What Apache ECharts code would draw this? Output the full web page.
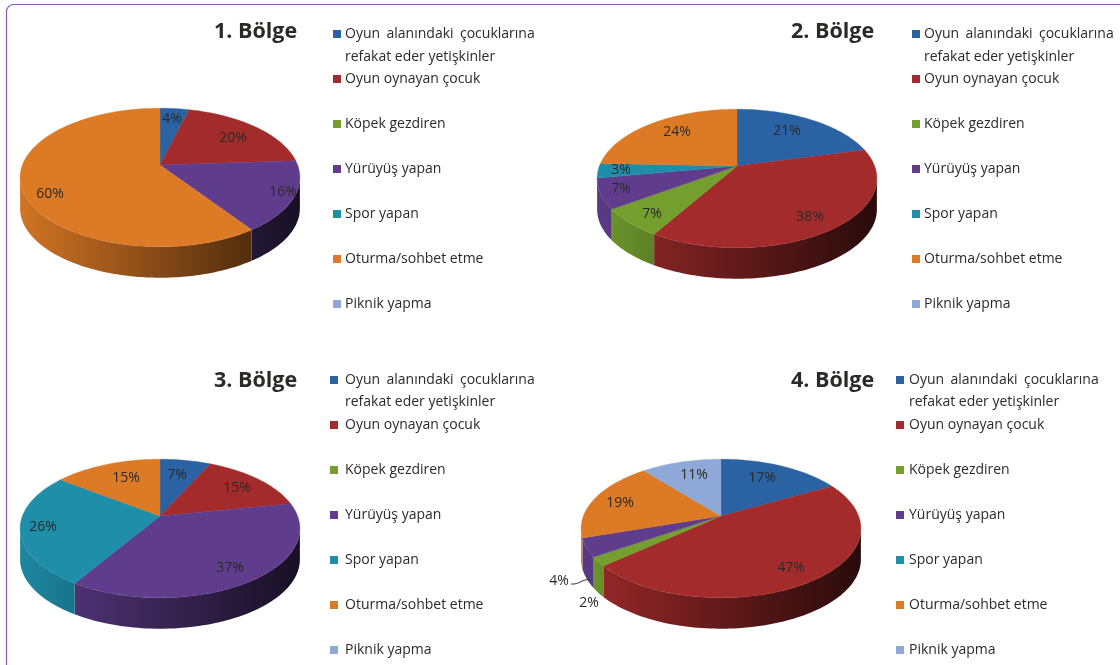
<!DOCTYPE html>
<html><head><meta charset="utf-8">
<style>html,body{margin:0;padding:0;background:#fff}#c{width:1120px;height:665px}</style>
<script src="https://cdn.jsdelivr.net/npm/echarts@6/dist/echarts.min.js"></script>
</head><body><div id="c"></div>
<script>
const categories = ['Oyun alanındaki çocuklarına','Oyun oynayan çocuk','Köpek gezdiren','Yürüyüş yapan','Spor yapan','Oturma/sohbet etme','Piknik yapma'];
const legendSecondLine = 'refakat eder yetişkinler';
const regionTitles = ['1. Bölge','2. Bölge','3. Bölge','4. Bölge'];
const region1 = [4,20,0,16.4,0,59.6,0];
const region2 = [21,37.5,6.7,7,3.4,24.4,0];
const region3 = [7,15,0,36.8,26.4,14.8,0];
const region4 = [17,46.6,2.1,4.3,0,19,11];
const regions = [region1,region2,region3,region4];

const colors = ['#2a62a3','#a42b2c','#749f2f','#5f3d8c','#1f8ea9','#dc7a26','#8ea9d8'];
const apex = [[160,165],[737,166],[160,516],[721,516]];
const R = 137.6, H = 67, K = 0.18, DEPTH = 31;
const legendPos = [[333,24,4],[912,24,4],[330,370,7],[896,370,5]];
const titlePos = [[214,21],[791,21],[214,370],[791,370]];
const secondLine = [[345,57],[924,57],[345,402],[909,402]];
// label centres per region / category
const labelPos = [
 [[172,119],[233,138],null,[283,192],null,[50,194],null],
 [[787,131],[810,217],[652,214],[621,189],[621,170],[677,132],null],
 [[177,475],[237,488],null,[230,568],[43,527],[126,478],null],
 [[762,478],[791,568],[589,603],[559,581],null,[620,503],[694,475]]
];
const FONT = '"Open Sans"';
const TEXT = '#2b2a29';
const FRONT_START = Math.acos(-K)/(2*Math.PI), FRONT_END = 1-FRONT_START;

function project(p, frac){
  const a = frac*2*Math.PI, u = Math.sin(a), v = -Math.cos(a), w = 1-K*v;
  return [apex[p][0]+R*u/w, apex[p][1]+H*v/w];
}
function arcPoints(p, a, b, n){
  const out = [];
  for(let i=0;i<=n;i++) out.push(project(p,a+(b-a)*i/n));
  return out;
}
function shade(hex, s){
  const n = parseInt(hex.slice(1),16);
  const c = [n>>16,(n>>8)&255,n&255].map(x=>Math.round(x*s));
  return 'rgb('+c.join(',')+')';
}
function renderSlice(cat){
  return function(params, api){
    const p = api.value(0), val = api.value(1);
    if(!val) return null;
    const before = regions[p].slice(0,cat).reduce((a,b)=>a+b,0);
    const total = regions[p].reduce((a,b)=>a+b,0);
    const s0 = before/total, s1 = (before+val)/total;
    const n = Math.max(4,Math.ceil(val*2));
    const col = colors[cat];
    const children = [
      {type:'polygon', z2:10, shape:{points:[apex[p]].concat(arcPoints(p,s0,s1,n))}, style:{fill:col,stroke:col,lineWidth:0.4}}
    ];
    const w0 = Math.max(s0,FRONT_START), w1 = Math.min(s1,FRONT_END);
    if(w1>w0){
      const arc = arcPoints(p,w0,w1,n);
      const wall = arc.concat(arc.slice().reverse().map(q=>[q[0],q[1]+DEPTH]));
      const xs = arc.map(q=>q[0]), minX = Math.min(...xs), maxX = Math.max(...xs);
      const left = apex[p][0]-R*1.0166, span = 2*R*1.0166;
      const sh = x => 0.95-0.7*(x-left)/span;
      children.push({type:'polygon', z2:1, shape:{points:wall},
       style:{fill:{type:'linear',x:0,y:0,x2:1,y2:0,colorStops:[{offset:0,color:shade(col,sh(minX))},{offset:1,color:shade(col,sh(maxX))}]}}});
    }
    const lp = labelPos[p][cat];
    if(lp) children.push({type:'text', z2:20, style:{x:lp[0],y:lp[1],text:Math.round(val)+'%',fill:TEXT,font:'14px '+FONT,align:'center',verticalAlign:'middle'}});
    if(p===3 && cat===3) children.push({type:'bezierCurve', z2:20, shape:{x1:571,y1:584,cpx1:580,cpy1:585,cpx2:582,cpy2:578,x2:591,y2:580}, style:{stroke:'#333',lineWidth:1,fill:null}});
    return {type:'group', children};
  };
}
const series = categories.map((name,c)=>({
  name, type:'custom', coordinateSystem:'none', itemStyle:{color:colors[c]},
  renderItem:renderSlice(c), silent:true, animation:false,
  data: regions.map((r,i)=>[i,r[c]])
}));
const chart = echarts.init(document.getElementById('c'),null,{renderer:'canvas'});
chart.setOption({
  animation:false, backgroundColor:'#fff',
  title: regionTitles.map((t,i)=>({text:t,left:titlePos[i][0],top:titlePos[i][1],padding:0,
    textStyle:{fontFamily:FONT,fontWeight:'bold',fontSize:21.5,color:TEXT}})),
  legend: legendPos.map(l=>({orient:'vertical',left:l[0],top:l[1],padding:0,icon:'rect',itemWidth:8,itemHeight:8,
    itemGap:25,data:categories,selectedMode:false,inactiveColor:'#ccc',
    formatter:n=>n===categories[0]?n.replace(/ /g,' \u200A\u200A'):n,
    textStyle:{fontFamily:FONT,fontSize:14,color:TEXT,lineHeight:20,padding:[0,0,0,l[2]-5]}})),
  graphic: [{type:'rect',silent:true,z:-1,shape:{x:6.5,y:4.5,width:1300,height:900,r:7},style:{fill:'none',stroke:'#8d5bb5',lineWidth:1.2}}]
    .concat(secondLine.map(s=>({type:'text',silent:true,x:s[0],y:s[1],style:{text:legendSecondLine,fill:TEXT,font:'14px '+FONT,verticalAlign:'middle'}}))),
  series
});
</script></body></html>
